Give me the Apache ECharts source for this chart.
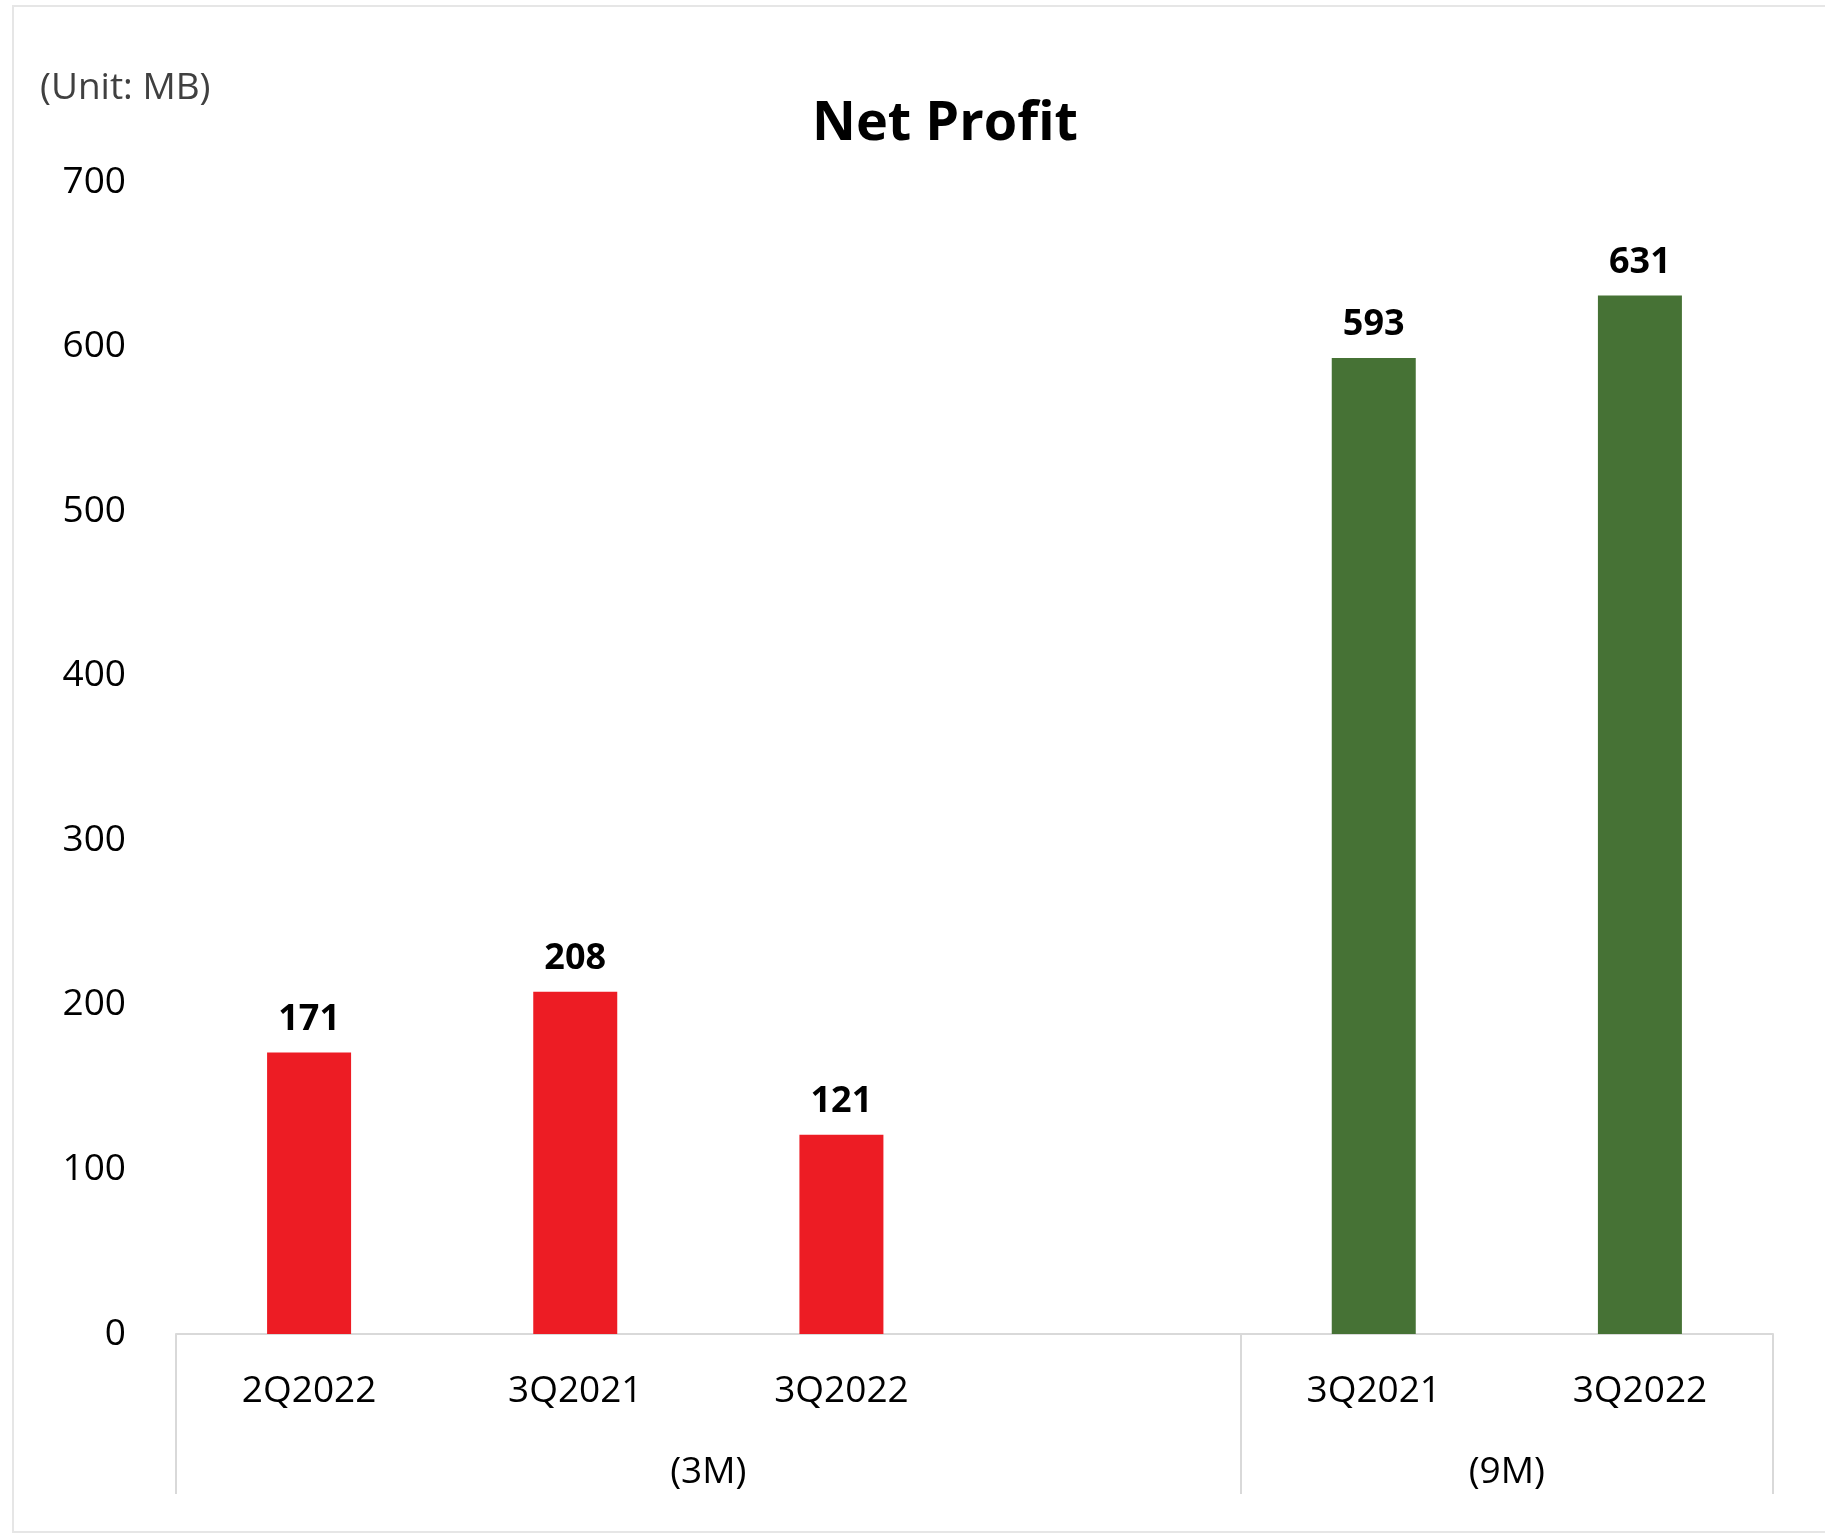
<!DOCTYPE html>
<html>
<head>
<meta charset="utf-8">
<title>Net Profit</title>
<script src="https://cdn.jsdelivr.net/npm/echarts@6/dist/echarts.min.js"></script>
<style>
  html, body { margin: 0; padding: 0; background: #fff; }
  #main { width: 1825px; height: 1534px; }
</style>
</head>
<body>
<div id="main"></div>
<script>
var categories = ["2Q2022", "3Q2021", "3Q2022", "", "3Q2021", "3Q2022"];
var values3M = [171, 208, 121];
var values9M = [593, 631];
var groupLabels = ["(3M)", "(9M)"];
var yTicks = [0, 100, 200, 300, 400, 500, 600, 700];

var red = "#ED1C24";
var green = "#467235";
var font = "Open Sans";

// bar data: 3M group, one empty slot, then 9M group
var barData = [];
values3M.forEach(function (v) {
  barData.push({ value: v, itemStyle: { color: red } });
});
barData.push("-");
values9M.forEach(function (v) {
  barData.push({ value: v, itemStyle: { color: green } });
});

var myChart = echarts.init(document.getElementById("main"));
var option = {
  backgroundColor: "#fff",
  textStyle: { fontFamily: font },
  title: [
    {
      text: "Net Profit",
      left: 812,
      top: 98,
      padding: 0,
      textStyle: { fontSize: 54, fontWeight: "bold", color: "#000", fontFamily: font }
    },
    {
      text: "(Unit: MB)",
      left: 40,
      top: 70,
      padding: 0,
      textStyle: { fontSize: 37, fontWeight: "normal", color: "#404040", fontFamily: font }
    }
  ],
  graphic: [
    {
      type: "rect",
      shape: { x: 13, y: 6, width: 1830, height: 1526 },
      style: { fill: "none", stroke: "#e6e6e6", lineWidth: 2 },
      silent: true
    }
  ],
  grid: { left: 176, right: 52, top: 182, bottom: 200 },
  xAxis: [
    {
      type: "category",
      data: categories,
      axisLine: { show: true, lineStyle: { color: "#d9d9d9", width: 2 } },
      axisTick: { show: false },
      axisLabel: { fontSize: 37, color: "#000", margin: 39, fontFamily: font, interval: 0 }
    },
    {
      // group row: separators and (3M)/(9M) labels
      type: "value",
      min: 0,
      max: categories.length,
      position: "bottom",
      axisLine: { show: false },
      splitLine: { show: false },
      axisTick: {
        show: true,
        customValues: [0, values3M.length + 1, categories.length],
        length: 160,
        lineStyle: { color: "#d9d9d9", width: 2 }
      },
      axisLabel: {
        customValues: [(values3M.length + 1) / 2, values3M.length + 1 + values9M.length / 2],
        formatter: function (v) {
          return v < values3M.length + 1 ? groupLabels[0] : groupLabels[1];
        },
        fontSize: 37,
        color: "#000",
        margin: 120,
        fontFamily: font
      }
    }
  ],
  yAxis: {
    type: "value",
    min: yTicks[0],
    max: yTicks[yTicks.length - 1],
    interval: 100,
    axisLine: { show: false },
    axisTick: { show: false },
    splitLine: { show: false },
    axisLabel: { fontSize: 37, color: "#000", margin: 50, fontFamily: font }
  },
  series: [
    {
      type: "bar",
      xAxisIndex: 0,
      data: barData,
      barWidth: 84,
      label: {
        show: true,
        position: "top",
        distance: 15,
        fontSize: 36,
        fontWeight: "bold",
        color: "#000",
        fontFamily: font
      }
    }
  ]
};
myChart.setOption(option);
</script>
</body>
</html>
